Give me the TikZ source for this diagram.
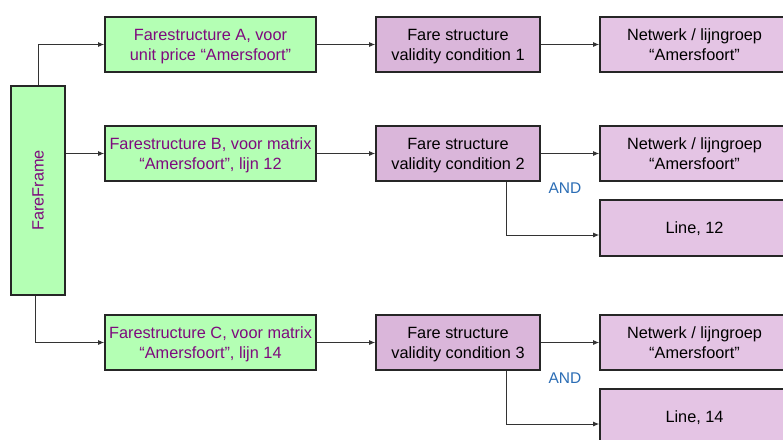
\documentclass[tikz,border=0pt]{standalone}
\usepackage{fontspec}
\setmainfont{Liberation Sans}
\usetikzlibrary{arrows.meta}
\definecolor{fsgreen}{HTML}{B4FFB4}
\definecolor{fspurple}{HTML}{7E0A7E}
\definecolor{condlila}{HTML}{DAB6DA}
\definecolor{netlila}{HTML}{E4C4E4}
\definecolor{andblue}{HTML}{2B6DB5}

\begin{document}
\begin{tikzpicture}[x=1pt, y=-1pt, >={Latex[length=6pt,width=5pt]}]
\tikzstyle{every node}=[font=\fontsize{16.3}{20}\selectfont, align=center, inner sep=0pt];
\tikzstyle{box}=[draw=black!85, line width=1.6pt, minimum height=55pt, text depth=-2pt];
\tikzstyle{frs}=[box, fill=fsgreen, text=fspurple, minimum width=211pt];
\tikzstyle{cond}=[box, fill=condlila, minimum width=164pt];
\tikzstyle{net}=[box, fill=netlila, minimum width=189pt];
\tikzstyle{link}=[->, draw=black!80, line width=1pt];
\tikzstyle{andlabel}=[text=andblue, font=\fontsize{15.5}{18}\selectfont];
\clip (0,0) rectangle (783,439);
\fill[white] (0,0) rectangle (783,439);

\node[box, fill=fsgreen, text=fspurple, minimum width=54pt, minimum height=209pt] (frame) at (38,190.5) {};
\node[rotate=90, text=fspurple] at (frame.center) {FareFrame};

\node[frs] (fsA) at (210.5,44.5) {Farestructure A, voor\\unit price “Amersfoort”};
\node[frs] (fsB) at (210.5,153.5) {Farestructure B, voor matrix\\“Amersfoort”, lijn 12};
\node[frs] (fsC) at (210.5,342.5) {Farestructure C, voor matrix\\“Amersfoort”, lijn 14};

\foreach \i/\y in {1/44.5,2/153.5,3/342.5}
{
\path (458,\y) node[cond] (cond\i) {Fare structure\\validity condition \i};
\path (694.5,\y) node[net] (net\i) {Netwerk / lijngroep\\“Amersfoort”};
}
\node[net, minimum height=56pt] (line12) at (694.5,228) {Line, 12};
\node[net, minimum height=56pt] (line14) at (694.5,417) {Line, 14};

\node[andlabel] (and2) at (565,188) {AND};
\node[andlabel] (and3) at (565,378) {AND};

% FareFrame to the fare structures
\draw[link] (frame.north) |- (fsA.west);
\draw[link] (fsB.west -| frame.east) -- (fsB.west);
\draw[link] ([xshift=-3pt]frame.south) |- (fsC.west);

\draw[link] (fsA) -- (cond1);
\draw[link] (fsB) -- (cond2);
\draw[link] (fsC) -- (cond3);
\draw[link] (cond1) -- (net1);
\draw[link] (cond2) -- (net2);
\draw[link] (cond3) -- (net3);
\draw[link] ([xshift=48pt]cond2.south) |- ([yshift=-7pt]line12.west);
\draw[link] ([xshift=48pt]cond3.south) |- ([yshift=-7pt]line14.west);
\end{tikzpicture}
\end{document}
